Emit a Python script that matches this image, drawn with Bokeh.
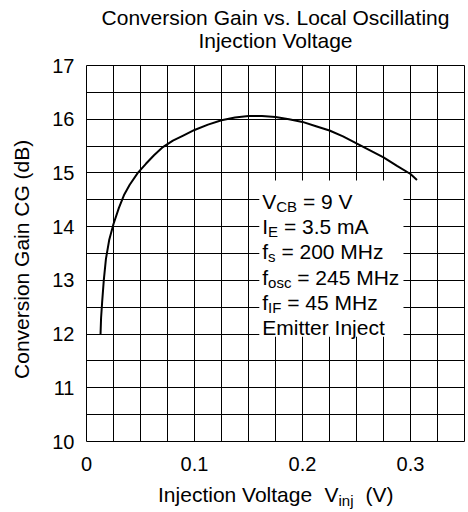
from bokeh.plotting import figure
from bokeh.models import (Range1d, FixedTicker, SingleIntervalTicker, BoxAnnotation, Label,
                          LinearAxis)
from bokeh.embed import file_html
from bokeh.resources import INLINE

# ---- data ----
vinj = [0.013, 0.0135, 0.0145, 0.016, 0.018, 0.021, 0.025, 0.030, 0.035, 0.040,
        0.0475, 0.055, 0.0625, 0.070, 0.080, 0.090, 0.100, 0.1125, 0.125, 0.1375,
        0.150, 0.1625, 0.175, 0.1875, 0.200, 0.2125, 0.225, 0.2375, 0.250, 0.2625,
        0.275, 0.2875, 0.300, 0.306]
gain = [12.0, 12.3, 12.6, 13.0, 13.4, 13.75, 14.05, 14.35, 14.6, 14.78,
        15.0, 15.17, 15.33, 15.47, 15.6, 15.7, 15.8, 15.9, 15.98, 16.03,
        16.06, 16.06, 16.04, 16.0, 15.95, 15.87, 15.79, 15.68, 15.55, 15.42,
        15.29, 15.13, 14.98, 14.87]
x_ticks = [0, 0.1, 0.2, 0.3]
x_tick_labels = ["0", "0.1", "0.2", "0.3"]
y_ticks = [10, 11, 12, 13, 14, 15, 16, 17]
title_lines = ["Conversion Gain vs. Local Oscillating", "Injection Voltage"]
y_title = "Conversion Gain  CG  (dB)"
x_title_parts = ["Injection Voltage", "V", "(V)"]
x_title_sub = "inj"

# annotation lines: (main, subscript, rest)
note_lines = [("V", "CB", "= 9 V"),
              ("I", "E", "= 3.5 mA"),
              ("f", "s", "= 200 MHz"),
              ("f", "osc", "= 245 MHz"),
              ("f", "IF", "= 45 MHz"),
              ("Emitter Inject", "", "")]

FONT = "Liberation Sans"
X0, X1, Y0, Y1 = 0.0, 0.35, 10.0, 17.0
FW, FH = 378, 376
BL, BT = 86, 65
ppx = FW / (X1 - X0)
ppy = FH / (Y1 - Y0)

p = figure(width=468, height=512, frame_width=FW, frame_height=FH,
           x_range=Range1d(X0, X1), y_range=Range1d(Y0, Y1),
           output_backend="svg", toolbar_location=None,
           min_border_left=BL, min_border_right=4, min_border_top=BT, min_border_bottom=71)
p.title = None

p.outline_line_color = "black"
p.outline_line_width = 1
p.background_fill_color = "white"
p.border_fill_color = "white"

def plain_axis(ax, size):
    ax.axis_line_color = None
    ax.major_tick_line_color = None
    ax.minor_tick_line_color = None
    ax.major_tick_in = 0
    ax.major_tick_out = 0
    ax.minor_tick_in = 0
    ax.minor_tick_out = 0
    ax.major_label_text_font = FONT
    ax.major_label_text_font_size = f"{size}px"
    ax.major_label_text_color = "black"

# axes
p.xaxis.ticker = FixedTicker(ticks=x_ticks)
p.xaxis.major_label_overrides = {t: l for t, l in zip(x_ticks, x_tick_labels)}
p.yaxis.ticker = FixedTicker(ticks=y_ticks)
plain_axis(p.xaxis[0], 20)
plain_axis(p.yaxis[0], 20)
p.xaxis.major_label_standoff = 15
p.yaxis.major_label_standoff = 12
p.yaxis.axis_label = y_title
p.yaxis.axis_label_text_font = FONT
p.yaxis.axis_label_text_font_size = "21px"
p.yaxis.axis_label_text_font_style = "normal"
p.yaxis.axis_label_text_color = "black"
p.yaxis.axis_label_standoff = 16

fs_main, fs_sub = 21, 15
def px_to_x(px):
    return round((px - BL) / ppx, 5)
xc = BL + FW / 2
xmid = px_to_x(xc)

# two-line chart title, each line centred over the frame (label-only axes above)
ax_t2 = LinearAxis(ticker=FixedTicker(ticks=[xmid]),
                   major_label_overrides={xmid: title_lines[1]})
plain_axis(ax_t2, fs_main)
ax_t2.major_label_standoff = 14
p.add_layout(ax_t2, "above")
ax_t1 = LinearAxis(ticker=FixedTicker(ticks=[xmid]),
                   major_label_overrides={xmid: title_lines[0]})
plain_axis(ax_t1, fs_main)
ax_t1.major_label_standoff = -3
p.add_layout(ax_t1, "above")

# x-axis title built from two extra label-only axes (main text + subscript)
main_centers = [xc - 118 + 77.6, xc + 49 + 7.0, xc + 90 + 14.0]
sub_center = xc + 63 + 7.5
main_pos = [px_to_x(c) for c in main_centers]
sub_pos = px_to_x(sub_center)

ax_t = LinearAxis(ticker=FixedTicker(ticks=main_pos),
                  major_label_overrides={t: l for t, l in zip(main_pos, x_title_parts)})
plain_axis(ax_t, fs_main)
ax_t.major_label_standoff = 9
p.add_layout(ax_t, "below")

ax_s = LinearAxis(ticker=FixedTicker(ticks=[sub_pos]),
                  major_label_overrides={sub_pos: x_title_sub})
plain_axis(ax_s, fs_sub)
ax_s.major_label_standoff = -17
p.add_layout(ax_s, "below")

# grid
p.xgrid.ticker = SingleIntervalTicker(interval=0.025, num_minor_ticks=0)
p.ygrid.ticker = SingleIntervalTicker(interval=0.5, num_minor_ticks=0)
for g in p.xgrid + p.ygrid:
    g.grid_line_color = "black"
    g.grid_line_alpha = 1
    g.grid_line_width = 1
for g in p.xgrid[1:] + p.ygrid[1:]:
    g.visible = False

# curve
p.line(vinj, gain, line_color="black", line_width=2)

# annotation box
p.add_layout(BoxAnnotation(left=0.160, right=0.2935, bottom=11.95, top=14.86,
                           fill_color="white", fill_alpha=1, line_alpha=0))

SP = 0.278 * fs_main
w_main = {"V": 0.667, "I": 0.278, "f": 0.278}
wm = {"C": 0.722, "B": 0.667, "E": 0.667, "s": 0.5, "o": 0.556, "c": 0.5, "I": 0.278,
      "F": 0.611}
def sub_w(s):
    return sum(wm[c] for c in s) * fs_sub

nx = 0.1627
ny0 = 14.473
step = 25.3 / ppy
sub_drop = 5 / ppy
for k, (m, s, r) in enumerate(note_lines):
    y = ny0 - k * step
    p.add_layout(Label(x=nx, y=y, text=m, text_font=FONT, text_font_size=f"{fs_main}px",
                       text_color="black", text_baseline="alphabetic", text_align="left"))
    if s:
        off = w_main[m] * fs_main
        p.add_layout(Label(x=nx, y=y - sub_drop, x_offset=off, text=s, text_font=FONT,
                           text_font_size=f"{fs_sub}px", text_color="black",
                           text_baseline="alphabetic", text_align="left"))
        p.add_layout(Label(x=nx, y=y, x_offset=off + sub_w(s) + SP, text=r, text_font=FONT,
                           text_font_size=f"{fs_main}px", text_color="black",
                           text_baseline="alphabetic", text_align="left"))

open("out.html", "w").write(file_html(p, INLINE))
